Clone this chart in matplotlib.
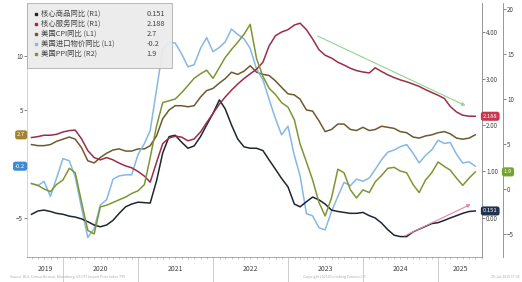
import matplotlib
matplotlib.use('Agg')
import matplotlib.pyplot as plt
import matplotlib.dates as mdates
import matplotlib.transforms as mtransforms
from matplotlib.patches import Rectangle
import pandas as pd

plt.rcParams['font.family'] = ['Noto Sans CJK SC', 'DejaVu Sans']

# monthly, Jul 2019 - Jun 2025 (month end)
months = pd.date_range('2019-07-31', '2025-06-30', freq='ME')

# L1 axis
cpi = [1.8, 1.7, 1.7, 1.8, 2.1, 2.3,
       2.5, 2.3, 1.5, 0.3, 0.1, 0.6, 1.0, 1.3, 1.4, 1.2, 1.2, 1.4,
       1.4, 1.7, 2.6, 4.2, 5.0, 5.4, 5.4, 5.3, 5.4, 6.2, 6.8, 7.0,
       7.5, 7.9, 8.5, 8.3, 8.6, 9.1, 8.5, 8.3, 8.2, 7.7, 7.1, 6.5,
       6.4, 6.0, 5.0, 4.9, 4.0, 3.0, 3.2, 3.7, 3.7, 3.2, 3.1, 3.4,
       3.1, 3.2, 3.5, 3.4, 3.3, 3.0, 2.9, 2.5, 2.4, 2.6, 2.7, 2.9,
       3.0, 2.8, 2.4, 2.3, 2.4, 2.7]
imports = [-1.8, -2.0, -1.6, -3.0, -1.3, 0.5,
           0.3, -1.2, -4.1, -6.8, -6.0, -3.8, -3.3, -1.4, -1.1, -1.0, -1.0, 0.9,
           1.9, 3.1, 6.9, 10.6, 11.3, 11.2, 10.2, 9.0, 9.2, 10.7, 11.7, 10.4,
           10.8, 11.3, 12.5, 12.0, 11.6, 10.7, 8.8, 7.8, 6.0, 4.2, 2.7, 3.5,
           0.8, -1.1, -4.6, -4.8, -5.9, -6.1, -4.4, -3.0, -1.7, -2.0, -1.4, -1.6,
           -1.3, -0.5, 0.4, 1.1, 1.3, 1.6, 1.8, 1.0, 0.1, 0.8, 1.3, 2.2,
           1.9, 2.0, 0.9, 0.1, 0.2, -0.2]

# R1 axis
core_goods = [0.08, 0.15, 0.17, 0.14, 0.10, 0.08,
              0.04, 0.02, -0.02, -0.08, -0.15, -0.19, -0.15, -0.05, 0.10, 0.24, 0.30, 0.34,
              0.33, 0.32, 0.80, 1.40, 1.75, 1.78, 1.63, 1.50, 1.55, 1.75, 2.00, 2.25,
              2.54, 2.35, 2.00, 1.70, 1.53, 1.50, 1.50, 1.45, 1.25, 1.05, 0.85, 0.67,
              0.30, 0.24, 0.35, 0.45, 0.39, 0.30, 0.17, 0.14, 0.12, 0.10, 0.10, 0.12,
              0.05, 0.00, -0.11, -0.25, -0.37, -0.40, -0.40, -0.30, -0.24, -0.18, -0.12, -0.10,
              -0.05, 0.00, 0.05, 0.10, 0.14, 0.151]
core_services = [1.73, 1.75, 1.78, 1.78, 1.80, 1.85,
                 1.88, 1.89, 1.70, 1.45, 1.30, 1.25, 1.30, 1.25, 1.18, 1.12, 1.08, 1.00,
                 0.90, 0.77, 1.20, 1.60, 1.72, 1.76, 1.74, 1.66, 1.70, 1.85, 2.05, 2.25,
                 2.45, 2.60, 2.75, 2.88, 3.00, 3.10, 3.20, 3.35, 3.70, 3.92, 4.00, 4.05,
                 4.15, 4.19, 4.05, 3.85, 3.62, 3.50, 3.44, 3.35, 3.29, 3.22, 3.17, 3.14,
                 3.12, 3.23, 3.15, 3.08, 3.02, 2.97, 2.93, 2.88, 2.83, 2.76, 2.70, 2.64,
                 2.57, 2.40, 2.28, 2.21, 2.19, 2.188]

# R2 axis
ppi = [0.6, 0.4, 0.0, -0.3, 0.5, 1.0,
       2.3, 1.8, -1.5, -4.6, -5.0, -2.0, -1.8, -1.5, -1.2, -0.9, -0.5, -0.2,
       0.5, 3.5, 7.0, 9.6, 9.8, 10.0, 10.7, 11.5, 12.3, 12.8, 13.2, 12.3,
       13.5, 14.6, 15.5, 16.3, 17.2, 18.3, 14.5, 12.5, 11.2, 10.5, 9.6, 9.1,
       7.7, 5.0, 3.0, 1.0, -1.5, -3.0, -1.0, 2.2, 1.8, -0.1, -1.0, -0.1,
       -0.4, 0.8, 1.5, 2.3, 2.4, 2.0, 1.8, 0.5, -0.4, 1.0, 1.8, 3.0,
       2.5, 2.1, 1.2, 0.4, 1.2, 1.9]

labels = ['核心商品同比 (R1)', '核心服务同比 (R1)', '美国CPI同比 (L1)',
          '美国进口物价同比 (L1)', '美国PPI同比 (R2)']
value_fmt = ['{:.3f}', '{:.3f}', '{:.1f}', '{:.1f}', '{:.1f}']
line_colors = ['#1f2633', '#9b2d4a', '#6e5a2e', '#86b8e3', '#7d9632']
tag_colors = ['#1f3350', '#c8354f', '#a58232', '#3d8ad6', '#74a42e']

fig = plt.figure(figsize=(5.22, 2.82), dpi=100)
ax = fig.add_axes([27 / 522, 25 / 282, 455 / 522, 254 / 282])
ax2 = ax.twinx()
ax3 = ax.twinx()

ax.plot(months, cpi, color=line_colors[2], lw=1.1)
ax.plot(months, imports, color=line_colors[3], lw=1.1)
ax2.plot(months, core_goods, color=line_colors[0], lw=1.1)
ax2.plot(months, core_services, color=line_colors[1], lw=1.1)
ax3.plot(months, ppi, color=line_colors[4], lw=1.1)

ax.set_ylim(-8.61, 14.91)
ax2.set_ylim(-0.839, 4.624)
ax3.set_ylim(-7.56, 20.67)
ax.set_xlim(pd.Timestamp('2019-07-09'), pd.Timestamp('2025-08-02'))

# the 0 on the left axis sits under the -0.2 tag, so it is left unlabelled
ax.set_yticks([-5, 5, 10])
ax2.set_yticks([0, 1, 2, 3, 4])
ax2.set_yticklabels(['{:.2f}'.format(v) for v in [0, 1, 2, 3, 4]])
ax3.set_yticks([-5, 0, 5, 10, 15, 20])
for a in (ax, ax2, ax3):
    a.tick_params(axis='y', labelsize=4.5, length=2, width=0.5, pad=1,
                  colors='#555555', labelcolor='#444444')
    for s in ('top', 'left', 'bottom', 'right'):
        a.spines[s].set_visible(False)
ax.spines['left'].set_visible(True)
ax.spines['left'].set_color('#cccccc')
ax.spines['left'].set_linewidth(0.6)
ax.spines['bottom'].set_visible(True)
ax.spines['bottom'].set_color('#999999')
ax.spines['bottom'].set_linewidth(0.6)
ax2.spines['right'].set_visible(True)
ax2.spines['right'].set_color('#888888')
ax2.spines['right'].set_linewidth(0.6)
ax3.spines['right'].set_visible(True)
ax3.spines['right'].set_position(('axes', 476 / 455))
ax3.spines['right'].set_color('#888888')
ax3.spines['right'].set_linewidth(0.6)

# x axis: long year separators, small month ticks, year labels between
ax.xaxis.set_major_locator(mdates.YearLocator())
ax.xaxis.set_minor_locator(mdates.MonthLocator())
ax.xaxis.set_major_formatter(plt.NullFormatter())
ax.tick_params(axis='x', which='major', length=18, width=0.5, color='#bbbbbb')
ax.tick_params(axis='x', which='minor', length=1.5, width=0.4, color='#999999')
x0, x1 = ax.get_xlim()
xtr = mtransforms.blended_transform_factory(ax.transData, ax.transAxes)
for yr in range(2019, 2026):
    a0 = max(mdates.date2num(pd.Timestamp(f'{yr}-01-01')), x0)
    a1 = min(mdates.date2num(pd.Timestamp(f'{yr + 1}-01-01')), x1)
    ax.text((a0 + a1) / 2, -0.047, str(yr), transform=xtr, ha='center',
            va='center', fontsize=5, color='#444444')

# end-value tags on the axes
last = [core_goods[-1], core_services[-1], cpi[-1], imports[-1], ppi[-1]]
tag_specs = [(ax2, 1.002, 'left'), (ax2, 1.002, 'left'), (ax, -0.004, 'right'),
             (ax, -0.004, 'right'), (ax3, 476 / 455 + 0.002, 'left')]
for (a, xpos, ha), v, fmt, c in zip(tag_specs, last, value_fmt, tag_colors):
    a.text(xpos, v, fmt.format(v), transform=a.get_yaxis_transform(), ha=ha,
           va='center', fontsize=4.2, color='white', zorder=10, clip_on=False,
           bbox=dict(boxstyle='round,pad=0.35,rounding_size=0.4', fc=c, ec='none'))

# trend arrows
ax2.annotate('', xy=(pd.Timestamp('2025-05-26'), 2.39),
             xytext=(pd.Timestamp('2023-05-12'), 3.94),
             arrowprops=dict(arrowstyle='-|>', color='#8fd68f', lw=0.8,
                             mutation_scale=5))
ax2.annotate('', xy=(pd.Timestamp('2025-06-20'), 0.32),
             xytext=(pd.Timestamp('2024-07-09'), -0.41),
             arrowprops=dict(arrowstyle='-|>', color='#e08aa0', lw=0.8,
                             mutation_scale=5))

# legend box
ax3.add_patch(Rectangle((0.0, 0.744), 0.319, 0.256, transform=ax3.transAxes,
                        fc='#ebebeb', ec='#aaaaaa', lw=0.6, alpha=0.95,
                        zorder=20, clip_on=False))
rows_y = [0.957, 0.917, 0.878, 0.839, 0.799]
for i, ry in enumerate(rows_y):
    ax3.plot([0.02], [ry], marker='s', ms=1.8, color=line_colors[i],
             transform=ax3.transAxes, zorder=21, clip_on=False)
    ax3.text(0.03, ry, labels[i], transform=ax3.transAxes, fontsize=5.3,
             va='center', ha='left', color='#444444', zorder=21)
    ax3.text(0.262, ry, value_fmt[i].format(last[i]), transform=ax3.transAxes,
             fontsize=5.3, va='center', ha='left', color='#444444', zorder=21)

# source line
fig.text(0.02, 0.018, 'Source: BLS, Census Bureau, Bloomberg  US CPI  Import Price Index  PPI',
         fontsize=2.5, color='#aaaaaa', va='center')
fig.text(0.58, 0.018, 'Copyright 2025 Bloomberg Finance L.P.', fontsize=2.5,
         color='#aaaaaa', va='center')
fig.text(0.94, 0.018, '25-Jul-2025 17:36', fontsize=2.5, color='#aaaaaa',
         va='center')

fig.savefig('out.png', dpi=100)
